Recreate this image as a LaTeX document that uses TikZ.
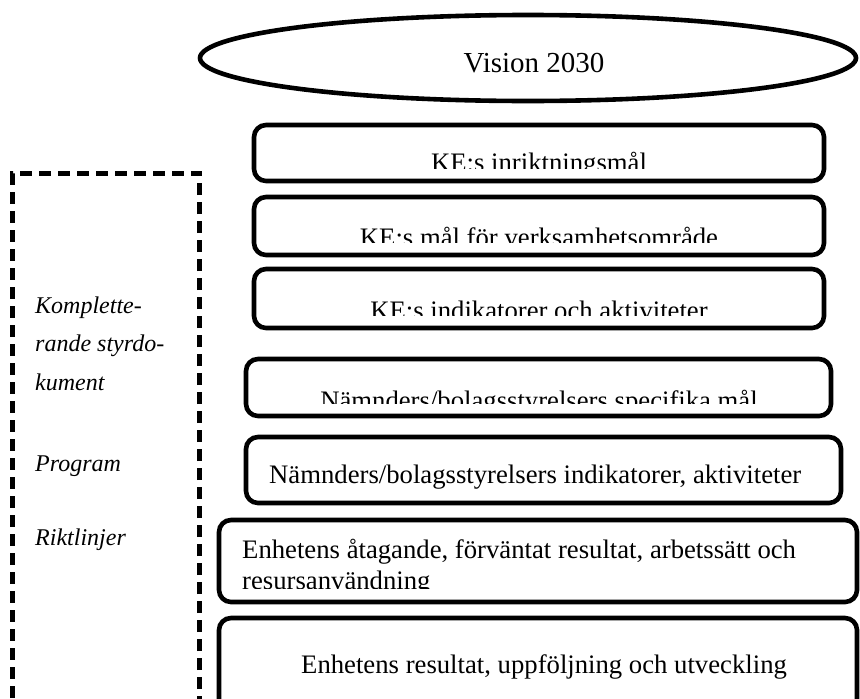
\documentclass[tikz,border=0pt]{standalone}
\usepackage{fontspec}
\setmainfont{Liberation Serif}[ItalicFont={Liberation Serif Italic},BoldFont={Liberation Serif Bold}]
\newfontfamily\sideit{Liberation Serif Italic}
\usetikzlibrary{shapes.geometric}
\begin{document}
\begin{tikzpicture}[x=1pt,y=-1pt,
  box/.style={draw,line width=4.6pt,rounded corners=12pt,inner sep=0pt},
  btxt/.style={inner sep=0pt,font=\fontsize{26.7pt}{31pt}\selectfont},
  itxt/.style={inner sep=0pt,anchor=base west,font=\sideit\fontsize{24pt}{29pt}\selectfont},
  dashbox/.style={draw,line width=5pt,dash pattern=on 12pt off 7pt,inner sep=0pt}]
\useasboundingbox (0,0) rectangle (860,699);
% vision
\node[ellipse,draw,line width=4.6pt,minimum width=656pt,minimum height=86pt,inner sep=0pt] (vis) at (528,58) {};
\node[btxt,font=\fontsize{29pt}{34pt}\selectfont,anchor=base] (vist) at (534,72) {Vision 2030};
% dashed side box
\node[dashbox,minimum width=187pt,minimum height=557pt] (side) at (106,451.5) {};
\node[itxt] (k1) at (35,313) {Komplette-};
\node[itxt] (k2) at (35,351) {rande styrdo-};
\node[itxt] (k3) at (35,390) {kument};
\node[itxt] (k4) at (35,471) {Program};
\node[itxt] (k5) at (35,545) {Riktlinjer};
% boxes
\node[box,minimum width=570pt,minimum height=56pt] (b1) at (539,153) {};
\node[box,minimum width=570pt,minimum height=58pt] (b2) at (539,226) {};
\node[box,minimum width=570pt,minimum height=59pt] (b3) at (539,298.5) {};
\node[box,minimum width=585pt,minimum height=57pt] (b4) at (538.5,387.5) {};
\node[box,minimum width=595pt,minimum height=66pt] (b5) at (543.5,470) {};
\node[box,minimum width=638pt,minimum height=82pt] (b6) at (538,561) {};
\node[box,minimum width=638pt,minimum height=102pt] (b7) at (538,669) {};
% texts (clipped as in the source)
\begin{scope}
\clip (0,0) rectangle (860,168);
\node[btxt,anchor=base] (t1) at (539,171.7) {KE:s inriktningsmål};
\end{scope}
\begin{scope}
\clip (0,190) rectangle (860,242);
\node[btxt,anchor=base] (t2) at (539,246.7) {KE:s mål för verksamhetsområde};
\end{scope}
\begin{scope}
\clip (0,262) rectangle (860,315);
\node[btxt,anchor=base] (t3) at (539,319.7) {KE:s indikatorer och aktiviteter};
\end{scope}
\begin{scope}
\clip (0,350) rectangle (860,403);
\node[btxt,anchor=base] (t4) at (539,409.7) {Nämnders/bolagsstyrelsers specifika mål};
\end{scope}
\node[btxt,anchor=base west] (t5) at (269,483) {Nämnders/bolagsstyrelsers indikatorer, aktiviteter};
\node[btxt,anchor=base west] (t6a) at (242,558) {Enhetens åtagande, förväntat resultat, arbetssätt och};
\begin{scope}
\clip (0,565) rectangle (860,588);
\node[btxt,anchor=base west] (t6b) at (242,589) {resursanvändning};
\end{scope}
\node[btxt,anchor=base west] (t7) at (301,673) {Enhetens resultat, uppföljning och utveckling};
\end{tikzpicture}
\end{document}
